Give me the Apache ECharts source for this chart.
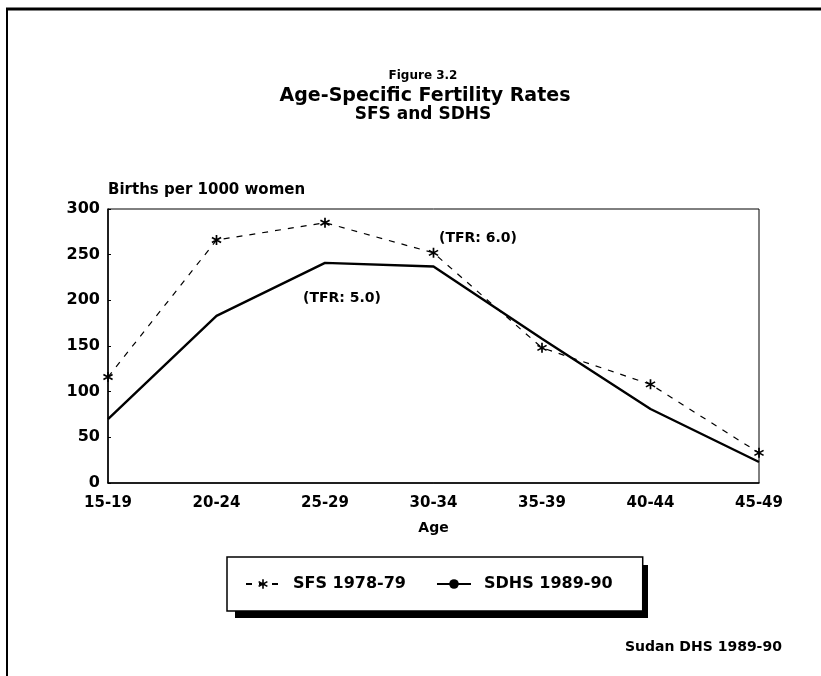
<!DOCTYPE html>
<html>
<head>
<meta charset="utf-8">
<script src="https://cdn.jsdelivr.net/npm/echarts@6/dist/echarts.min.js"></script>
<style>
html,body{margin:0;padding:0;background:#fff;}
#chart{width:821px;height:676px;}
</style>
</head>
<body>
<div id="chart"></div>
<script>
var categories = ['15-19', '20-24', '25-29', '30-34', '35-39', '40-44', '45-49'];
var sfsValues = [116, 266, 285, 252, 148, 108, 33];
var sdhsValues = [70, 183, 241, 237, 158, 81, 23];
var seriesNames = ['SFS 1978-79', 'SDHS 1989-90'];
var yTicks = { min: 0, max: 300, interval: 50 };
var titleLines = ['Figure 3.2', 'Age-Specific Fertility Rates', 'SFS and SDHS'];
var tfrLabels = ['(TFR: 5.0)', '(TFR: 6.0)'];
var sourceText = 'Sudan DHS 1989-90';

var FONT = 'DejaVu Sans';
var star = 'path://M4.2 0L5.8 0L5.8 10L4.2 10Z' +
  'M1.07 1.81L9.73 6.81L8.93 8.19L0.27 3.19Z' +
  'M0.27 6.81L8.93 1.81L9.73 3.19L1.07 8.19Z';

var chart = echarts.init(document.getElementById('chart'), null, { renderer: 'canvas' });
var option = {
  backgroundColor: '#fff',
  animation: false,
  textStyle: { fontFamily: FONT, color: '#000' },
  title: [
    { text: titleLines[0], left: 418, top: 65, textAlign: 'center',
      textStyle: { fontFamily: FONT, fontWeight: 'bold', fontSize: 12, color: '#000' } },
    { text: titleLines[1], left: 420, top: 82, textAlign: 'center',
      textStyle: { fontFamily: FONT, fontWeight: 'bold', fontSize: 19, color: '#000' } },
    { text: titleLines[2], left: 418, top: 101, textAlign: 'center',
      textStyle: { fontFamily: FONT, fontWeight: 'bold', fontSize: 17, color: '#000' } }
  ],
  grid: { left: 108, right: 62, top: 209, bottom: 193, show: true, borderColor: '#000', borderWidth: 1, backgroundColor: 'transparent' },
  xAxis: {
    type: 'category', data: categories, boundaryGap: false,
    name: 'Age', nameLocation: 'middle', nameGap: 38,
    nameTextStyle: { fontFamily: FONT, fontWeight: 'bold', fontSize: 14, color: '#000' },
    axisLine: { lineStyle: { color: '#000', width: 1.5 } },
    axisTick: { show: false },
    axisLabel: { fontFamily: FONT, fontWeight: 'bold', fontSize: 15, color: '#000', margin: 13 },
    splitLine: { show: false }
  },
  yAxis: {
    type: 'value', min: yTicks.min, max: yTicks.max, interval: yTicks.interval,
    name: 'Births per 1000 women', nameLocation: 'end', nameGap: 11,
    nameTextStyle: { fontFamily: FONT, fontWeight: 'bold', fontSize: 15, color: '#000', align: 'left', verticalAlign: 'bottom' },
    axisLine: { show: true, lineStyle: { color: '#000', width: 1.5 } },
    axisTick: { show: true, inside: true, length: 3, lineStyle: { color: '#000' } },
    axisLabel: { fontFamily: FONT, fontWeight: 'bold', fontSize: 16, color: '#000', margin: 8 },
    splitLine: { show: false }
  },
  legend: {
    data: seriesNames,
    left: 227, top: 557,
    padding: [19, 30, 19, 18],
    itemWidth: 34, itemHeight: 12, itemGap: 30,
    backgroundColor: '#fff', borderColor: '#000', borderWidth: 1.5,
    textStyle: { fontFamily: FONT, fontWeight: 'bold', fontSize: 16, color: '#000', padding: [0, 0, 0, 8] }
  },
  graphic: [
    { type: 'line', shape: { x1: 6, y1: 9, x2: 821, y2: 9 }, style: { stroke: '#000', lineWidth: 3 } },
    { type: 'line', shape: { x1: 7, y1: 8, x2: 7, y2: 676 }, style: { stroke: '#000', lineWidth: 2 } },
    { type: 'rect', shape: { x: 235, y: 565, width: 413, height: 53 }, style: { fill: '#000' }, z: 1 },
    { type: 'text', left: 303, top: 291, style: { text: tfrLabels[0], font: 'bold 14px "DejaVu Sans"', fill: '#000' }, z: 10 },
    { type: 'text', left: 439, top: 231, style: { text: tfrLabels[1], font: 'bold 14px "DejaVu Sans"', fill: '#000' }, z: 10 },
    { type: 'text', left: 625, top: 640, style: { text: sourceText, font: 'bold 14px "DejaVu Sans"', fill: '#000' }, z: 10 }
  ],
  series: [
    {
      name: seriesNames[0], type: 'line', data: sfsValues,
      symbol: star, symbolSize: 10, showSymbol: true,
      lineStyle: { color: '#000', width: 1.2, type: [6, 7] },
      itemStyle: { color: '#000' }
    },
    {
      name: seriesNames[1], type: 'line', data: sdhsValues,
      symbol: 'none', showSymbol: false,
      lineStyle: { color: '#000', width: 2.4, type: 'solid' },
      itemStyle: { color: '#000' }
    }
  ]
};
chart.setOption(option);
</script>
</body>
</html>
